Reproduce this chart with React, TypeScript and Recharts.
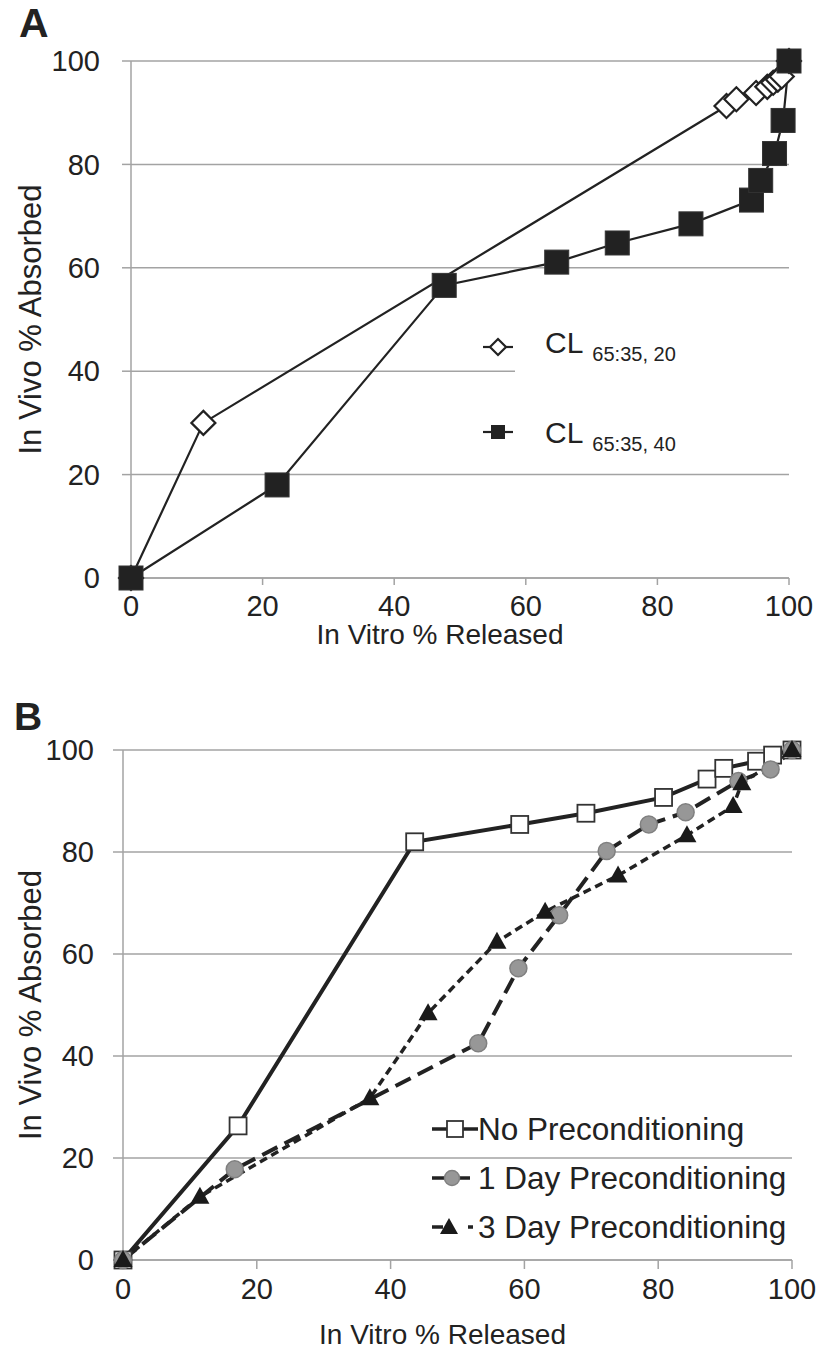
import React from 'react';
import { LineChart, Line, XAxis, YAxis, CartesianGrid, Legend } from 'recharts';

const FONT = '"Liberation Sans", Arial, sans-serif';
const INK = '#222';
const GRID = '#a3a3a3';

// Panel A
const cl20X = [0, 11, 90.5, 92, 95, 96.7, 97.6, 98.3, 98.9, 100];
const cl20Y = [0, 30, 91.3, 92.6, 93.8, 95, 95.8, 96.4, 97, 100];
const cl40X = [0, 22.2, 47.6, 64.7, 73.9, 85.1, 94.3, 95.7, 97.8, 99.1, 100];
const cl40Y = [0, 18, 56.6, 61.1, 64.8, 68.5, 73.1, 76.9, 82.1, 88.5, 100];

// Panel B
const noPreX = [0, 17.2, 43.6, 59.3, 69.2, 80.8, 87.3, 89.8, 94.7, 97.1, 100];
const noPreY = [0, 26.3, 82, 85.4, 87.6, 90.7, 94.3, 96.4, 97.8, 99, 100];
const day1X = [0, 16.7, 53.1, 59.1, 65.2, 72.3, 78.6, 84.1, 92, 96.8, 100];
const day1Y = [0, 17.8, 42.5, 57.2, 67.6, 80.2, 85.4, 87.8, 93.9, 96.2, 100];
const day3X = [0, 11.5, 36.9, 45.6, 55.9, 63.1, 74, 84.3, 91.2, 92.5, 100];
const day3Y = [0, 12.4, 31.7, 48.4, 62.4, 68.3, 75.4, 83.3, 89, 93.5, 100];

const ticks = [0, 20, 40, 60, 80, 100];

const pts = (xs: number[], ys: number[]) => xs.map((x, i) => ({ x, y: ys[i] }));

const diamondDot = (p: any) => {
  const { cx, cy, index } = p;
  if (cx == null || cy == null) return <g key={index} />;
  const s = 12;
  return (
    <path key={index} d={`M${cx},${cy - s}L${cx + s},${cy}L${cx},${cy + s}L${cx - s},${cy}Z`}
      fill="#fff" stroke={INK} strokeWidth={2.2} />
  );
};

const bigSquareDot = (p: any) => {
  const { cx, cy, index } = p;
  if (cx == null || cy == null) return <g key={index} />;
  return <rect key={index} x={cx - 12} y={cy - 12} width={24} height={24} fill="#222" stroke="#333" strokeWidth={1} />;
};

const openSquareDot = (p: any) => {
  const { cx, cy, index } = p;
  if (cx == null || cy == null) return <g key={index} />;
  return <rect key={index} x={cx - 8.5} y={cy - 8.5} width={17} height={17} fill="#fff" stroke="#333" strokeWidth={1.8} />;
};

const greyCircleDot = (p: any) => {
  const { cx, cy, index } = p;
  if (cx == null || cy == null) return <g key={index} />;
  return <circle key={index} cx={cx} cy={cy} r={8.5} fill="#979797" stroke="#808080" strokeWidth={1.5} />;
};

const triangleDot = (p: any) => {
  const { cx, cy, index } = p;
  if (cx == null || cy == null) return <g key={index} />;
  return <path key={index} d={`M${cx},${cy - 10}L${cx + 9.5},${cy + 7}L${cx - 9.5},${cy + 7}Z`} fill="#1a1a1a" />;
};

const LegendA = () => (
  <svg width={310} height={145} style={{ display: 'block', fontFamily: FONT }}>
    <rect x={35} y={0} width={275} height={145} fill="#fff" />
    <line x1={3} y1={27} x2={33} y2={27} stroke={INK} strokeWidth={2.2} />
    <path d="M18,19L26,27L18,35L10,27Z" fill="#fff" stroke={INK} strokeWidth={2.2} />
    <text x={65} y={33} fill={INK}>
      <tspan fontSize={30}>CL</tspan>
      <tspan fontSize={20} dx={9} dy={8}>65:35, 20</tspan>
    </text>
    <line x1={3} y1={112} x2={33} y2={112} stroke={INK} strokeWidth={2.2} />
    <rect x={11} y={105} width={14} height={14} fill="#222" />
    <text x={65} y={123} fill={INK}>
      <tspan fontSize={30}>CL</tspan>
      <tspan fontSize={20} dx={9} dy={8}>65:35, 40</tspan>
    </text>
  </svg>
);

const LegendB = () => (
  <svg width={370} height={150} style={{ display: 'block', fontFamily: FONT }}>
    <line x1={7} y1={29} x2={53} y2={29} stroke={INK} strokeWidth={3.5} />
    <rect x={22} y={21} width={16} height={16} fill="#fff" stroke="#333" strokeWidth={1.8} />
    <text x={53} y={40} fontSize={31.5} fill={INK}>No Preconditioning</text>
    <line x1={7} y1={78} x2={45} y2={78} stroke={INK} strokeWidth={3.5} />
    <circle cx={27} cy={78} r={7.5} fill="#979797" stroke="#808080" strokeWidth={1.5} />
    <text x={53} y={89} fontSize={31.5} fill={INK}> 1 Day Preconditioning</text>
    <line x1={7} y1={127} x2={18} y2={127} stroke={INK} strokeWidth={3.5} />
    <line x1={43} y1={127} x2={48} y2={127} stroke={INK} strokeWidth={3.5} />
    <path d="M24,118L33,134L15,134Z" fill="#1a1a1a" />
    <text x={53} y={138} fontSize={31.5} fill={INK}>3 Day Preconditioning</text>
  </svg>
);

const tickStyle = { fontSize: 29, fill: INK, fontFamily: FONT };
const titleStyle = { fontSize: 28, fill: INK, fontFamily: FONT };
const yTitleStyle = { fontSize: 31, fill: INK, fontFamily: FONT, textAnchor: 'middle' as const };

export default function App() {
  return (
    <div style={{ position: 'absolute', left: 0, top: 0, width: 820, height: 1359, background: '#fff', fontFamily: FONT }}>
      <div style={{ position: 'absolute', left: 19, top: 3, fontSize: 41, fontWeight: 'bold', color: INK, lineHeight: 1 }}>A</div>
      <div style={{ position: 'absolute', left: 0, top: 0 }}>
        <LineChart width={820} height={680} margin={{ top: 61, right: 31, bottom: 22, left: 0 }}>
          <CartesianGrid vertical={false} stroke={GRID} strokeWidth={1.5} />
          <XAxis type="number" dataKey="x" domain={[0, 100]} ticks={ticks} stroke={GRID} strokeWidth={1.5}
            tickSize={7} tickMargin={10} tick={tickStyle} height={80}
            label={{ value: 'In Vitro % Released', position: 'insideBottom', offset: 14, dx: -20, style: titleStyle }} />
          <YAxis type="number" domain={[0, 100]} ticks={ticks} stroke={GRID} strokeWidth={1.5}
            tickSize={9} tickMargin={22} tick={tickStyle} width={131}
            label={{ value: 'In Vivo % Absorbed', angle: -90, position: 'insideLeft', offset: 30, style: yTitleStyle }} />
          <Legend layout="horizontal" verticalAlign="middle" align="center" content={() => <LegendA />}
            wrapperStyle={{ position: 'absolute', left: 480, top: 320, width: 310, height: 145 }} />
          <Line data={pts(cl20X, cl20Y)} dataKey="y" type="linear" stroke={INK} strokeWidth={2.2}
            dot={diamondDot} activeDot={false} isAnimationActive={false} legendType="none" />
          <Line data={pts(cl40X, cl40Y)} dataKey="y" type="linear" stroke={INK} strokeWidth={2.2}
            dot={bigSquareDot} activeDot={false} isAnimationActive={false} legendType="none" />
        </LineChart>
      </div>
      <div style={{ position: 'absolute', left: 14, top: 697, fontSize: 39, fontWeight: 'bold', color: INK, lineHeight: 1 }}>B</div>
      <div style={{ position: 'absolute', left: 0, top: 680 }}>
        <LineChart width={820} height={679} margin={{ top: 70, right: 28, bottom: 19, left: 0 }}>
          <CartesianGrid vertical={false} stroke={GRID} strokeWidth={1.5} />
          <XAxis type="number" dataKey="x" domain={[0, 100]} ticks={ticks} stroke={GRID} strokeWidth={1.5}
            tickSize={9} tickMargin={9} tick={tickStyle} height={80}
            label={{ value: 'In Vitro % Released', position: 'insideBottom', offset: -4, dx: -15, style: titleStyle }} />
          <YAxis type="number" domain={[0, 100]} ticks={ticks} stroke={GRID} strokeWidth={1.5}
            tickSize={10} tickMargin={19} tick={tickStyle} width={123}
            label={{ value: 'In Vivo % Absorbed', angle: -90, position: 'insideLeft', offset: 30, style: yTitleStyle }} />
          <Legend layout="horizontal" verticalAlign="middle" align="center" content={() => <LegendB />}
            wrapperStyle={{ position: 'absolute', left: 425, top: 420, width: 370, height: 150 }} />
          <Line data={pts(noPreX, noPreY)} dataKey="y" type="linear" stroke={INK} strokeWidth={4}
            dot={openSquareDot} activeDot={false} isAnimationActive={false} legendType="none" />
          <Line data={pts(day1X, day1Y)} dataKey="y" type="linear" stroke={INK} strokeWidth={4}
            strokeDasharray="17 8" dot={greyCircleDot} activeDot={false} isAnimationActive={false} legendType="none" />
          <Line data={pts(day3X, day3Y)} dataKey="y" type="linear" stroke={INK} strokeWidth={3.5}
            strokeDasharray="8 5" dot={triangleDot} activeDot={false} isAnimationActive={false} legendType="none" />
        </LineChart>
      </div>
    </div>
  );
}
